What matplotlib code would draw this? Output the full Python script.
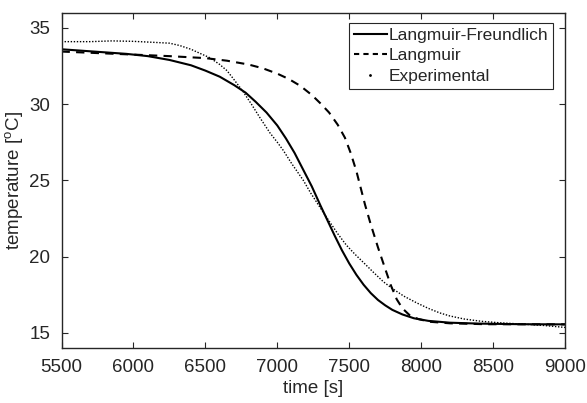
import matplotlib
matplotlib.use('Agg')
import matplotlib.pyplot as plt
from matplotlib.lines import Line2D

plt.rcParams['font.family'] = ['Liberation Sans', 'DejaVu Sans']
plt.rcParams['mathtext.fontset'] = 'custom'
plt.rcParams['mathtext.rm'] = 'Liberation Sans'
plt.rcParams['mathtext.it'] = 'Liberation Sans:italic'
ink = '#262626'

# Langmuir-Freundlich model (solid)
t_lf = [5500, 5650, 5800, 5950, 6100, 6250, 6400, 6500, 6600, 6700, 6780, 6850, 6925, 7000,
        7060, 7120, 7180, 7240, 7300, 7350, 7400, 7450, 7500, 7550, 7600, 7650, 7700, 7750,
        7800, 7870, 7950, 8050, 8200, 8400, 8700, 9000]
T_lf = [33.6, 33.5, 33.4, 33.3, 33.15, 32.9, 32.55, 32.2, 31.8, 31.25, 30.75, 30.15, 29.45, 28.6,
        27.75, 26.8, 25.7, 24.6, 23.35, 22.35, 21.35, 20.4, 19.55, 18.8, 18.15, 17.6, 17.15, 16.8,
        16.5, 16.2, 15.95, 15.78, 15.66, 15.6, 15.56, 15.55]

# Langmuir model (dashed)
t_l = [5500, 5750, 6000, 6250, 6500, 6650, 6800, 6900, 7000, 7080, 7160, 7240, 7300, 7360,
       7420, 7470, 7510, 7550, 7580, 7610, 7650, 7700, 7750, 7790, 7830, 7870, 7920, 7980,
       8060, 8200, 8450, 9000]
T_l = [33.45, 33.35, 33.25, 33.15, 33.02, 32.85, 32.6, 32.35, 32.0, 31.65, 31.2, 30.6, 30.05, 29.45,
       28.65, 27.8, 26.8, 25.6, 24.5, 23.4, 22.1, 20.6, 19.2, 18.1, 17.2, 16.6, 16.15, 15.9,
       15.72, 15.62, 15.56, 15.55]

# Experimental (dotted)
t_exp = [5500, 5700, 5850, 6000, 6150, 6250, 6320, 6400, 6470, 6530, 6600, 6650, 6700, 6764,
         6820, 6880, 6950, 7000, 7042, 7100, 7181, 7230, 7285, 7330, 7366, 7420, 7480, 7540,
         7600, 7670, 7737, 7800, 7880, 7969, 8050, 8130, 8200, 8300, 8420, 8550, 8700, 8850, 9000]
T_exp = [34.1, 34.1, 34.15, 34.12, 34.05, 34.0, 33.85, 33.6, 33.3, 33.05, 32.6, 32.2, 31.6, 30.8,
         30.0, 29.1, 28.1, 27.5, 26.96, 26.1, 25.0, 24.2, 23.4, 22.75, 22.25, 21.5, 20.75, 20.15,
         19.6, 18.95, 18.35, 17.9, 17.4, 16.96, 16.6, 16.3, 16.1, 15.9, 15.75, 15.65, 15.57, 15.48, 15.35]

fig = plt.figure(figsize=(5.87, 4.03), dpi=100)
ax = fig.add_axes([0.1048, 0.1365, 0.8577, 0.832])

ax.plot(t_lf, T_lf, color='k', lw=1.5)
ax.plot(t_l, T_l, color='k', lw=1.5, ls=(0, (4, 3)))
ax.plot(t_exp, T_exp, color='k', lw=1.0, ls=(0, (1, 1.2)))

ax.set_xlim(5500, 9000)
ax.set_ylim(14, 36)
ax.set_xticks([5500, 6000, 6500, 7000, 7500, 8000, 8500, 9000])
ax.set_yticks([15, 20, 25, 30, 35])
ax.tick_params(direction='in', top=True, right=True, length=4, labelsize=13.5, pad=8,
               colors=ink, labelcolor=ink)
for s in ax.spines.values():
    s.set_linewidth(1.0)
    s.set_color(ink)

ax.set_xlabel('time [s]', fontsize=13.5, labelpad=3, color=ink)
ax.set_ylabel(r'temperature [$^{\mathrm{o}}$C]', fontsize=13.5, labelpad=3, color=ink)

handles = [Line2D([], [], color='k', lw=1.5),
           Line2D([], [], color='k', lw=1.5, ls=(0, (2.5, 2))),
           Line2D([], [], color='k', ls='none', marker='.', markersize=2)]
leg = ax.legend(handles, ['Langmuir-Freundlich', 'Langmuir', 'Experimental'],
                loc='upper right', bbox_to_anchor=(0.977, 0.97), fontsize=12.5,
                frameon=True, fancybox=False, edgecolor=ink, framealpha=1,
                handlelength=1.9, handletextpad=0.1, borderpad=0.3, labelspacing=0.3,
                borderaxespad=0)
leg.get_frame().set_linewidth(0.8)
for txt in leg.get_texts():
    txt.set_color(ink)

fig.savefig('out.png', dpi=100)
